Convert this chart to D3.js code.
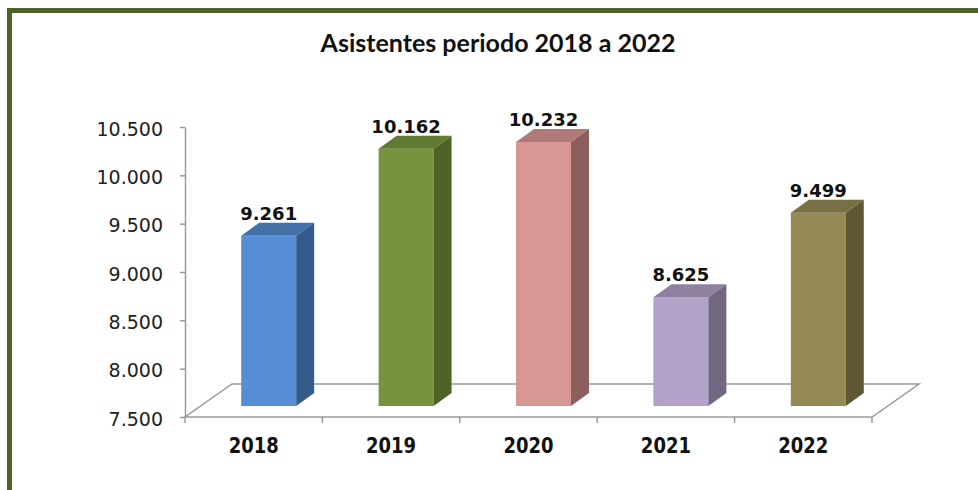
<!DOCTYPE html>
<html>
<head>
<meta charset="utf-8">
<script src="https://cdn.jsdelivr.net/npm/d3@7"></script>
<style>
  body { margin: 0; background: #fff; }
  svg { display: block; }
</style>
</head>
<body>
<svg width="978" height="490"></svg>
<script>
// data
var years = ['2018', '2019', '2020', '2021', '2022'];
var asistentes = [9261, 10162, 10232, 8625, 9499];
var yTicks = [7500, 8000, 8500, 9000, 9500, 10000, 10500];
var frontColors = ['#558ed5', '#77933c', '#d99694', '#b3a2c7', '#948a54'];
var topColors = ['#4470a8', '#617a31', '#b07a78', '#8f82a0', '#787045'];
var sideColors = ['#355b8a', '#4f6228', '#8c5f5e', '#726783', '#5e5835'];

var svg = d3.select('svg');

// green frame (cut off at right and bottom like the source)
svg.append('rect')
  .attr('x', 9.5).attr('y', 10.5)
  .attr('width', 1000).attr('height', 600)
  .attr('fill', 'none')
  .attr('stroke', '#4f6228')
  .attr('stroke-width', 5);

svg.append('text')
  .attr('x', 498).attr('y', 52)
  .attr('text-anchor', 'middle')
  .style('font-family', 'Lato, sans-serif')
  .style('font-weight', 'bold')
  .style('font-size', '25px')
  .attr('fill', '#111')
  .text('Asistentes periodo 2018 a 2022');

var plotL = 185, plotR = 872, plotT = 127, plotB = 417;
// 3d depth of floor and bars
var floorDx = 47, floorDy = -33;
var barOffX = 15, barOffY = -11;
var barDx = 18, barDy = -13;

var x = d3.scaleBand()
  .domain(years)
  .range([plotL, plotR])
  .paddingInner(0.6)
  .paddingOuter(0.3);

var y = d3.scaleLinear()
  .domain([7500, 10500])
  .range([plotB, plotT]);

var es = d3.formatLocale({decimal: ',', thousands: '.', grouping: [3], currency: ['', '']});
var fmt = es.format(',d');

var axisColor = '#9a9a9a';

function pts(arr) { return arr.map(function(p) { return p.join(','); }).join(' '); }

// floor
svg.append('polygon')
  .attr('points', pts([
    [plotL, plotB], [plotR, plotB],
    [plotR + floorDx, plotB + floorDy], [plotL + floorDx, plotB + floorDy]
  ]))
  .attr('fill', '#fff')
  .attr('stroke', axisColor)
  .attr('stroke-width', 1.5);

// y axis
var yAxis = svg.append('g')
  .attr('transform', 'translate(' + plotL + ',0)')
  .call(d3.axisLeft(y).tickValues(yTicks).tickFormat(fmt).tickSize(5).tickSizeOuter(0).tickPadding(17));
yAxis.select('.domain').attr('stroke', axisColor).attr('stroke-width', 1.5);
yAxis.selectAll('.tick line').attr('stroke', axisColor).attr('stroke-width', 1.5);
yAxis.selectAll('.tick text')
  .attr('dy', null)
  .attr('y', 8)
  .style('font-family', '"DejaVu Sans", Verdana, sans-serif')
  .style('font-size', '19px')
  .attr('fill', '#222');

// category boundary ticks
var step = x.step();
var bounds = d3.range(years.length + 1).map(function(i) { return plotL + i * step; });
svg.selectAll('.xtick')
  .data(bounds)
  .enter()
  .append('line')
  .attr('class', 'xtick')
  .attr('x1', function(d) { return d; })
  .attr('x2', function(d) { return d; })
  .attr('y1', plotB)
  .attr('y2', plotB + 6)
  .attr('stroke', axisColor)
  .attr('stroke-width', 1.5);

// category labels, a bit taller than wide like the source
svg.selectAll('.xlabel')
  .data(years)
  .enter()
  .append('text')
  .attr('class', 'xlabel')
  .attr('transform', function(d) {
    return 'translate(' + (x(d) + x.bandwidth() / 2) + ',453) scale(1,1.15)';
  })
  .attr('text-anchor', 'middle')
  .style('font-family', '"DejaVu Sans", Verdana, sans-serif')
  .style('font-weight', 'bold')
  .style('font-size', '18px')
  .attr('fill', '#111')
  .text(function(d) { return d; });

// bars
var bars = svg.selectAll('.bar')
  .data(years.map(function(yr, i) { return {year: yr, value: asistentes[i], i: i}; }))
  .enter()
  .append('g')
  .attr('class', 'bar');

bars.append('rect')
  .attr('x', function(d) { return x(d.year) + barOffX; })
  .attr('y', function(d) { return y(d.value) + barOffY; })
  .attr('width', x.bandwidth())
  .attr('height', function(d) { return y(7500) - y(d.value); })
  .attr('fill', function(d) { return frontColors[d.i]; });

bars.append('polygon')
  .attr('points', function(d) {
    var x0 = x(d.year) + barOffX, x1 = x0 + x.bandwidth(), yt = y(d.value) + barOffY;
    return pts([[x0, yt], [x0 + barDx, yt + barDy], [x1 + barDx, yt + barDy], [x1, yt]]);
  })
  .attr('fill', function(d) { return topColors[d.i]; });

bars.append('polygon')
  .attr('points', function(d) {
    var x1 = x(d.year) + barOffX + x.bandwidth(), yt = y(d.value) + barOffY, yb = y(7500) + barOffY;
    return pts([[x1, yt], [x1 + barDx, yt + barDy], [x1 + barDx, yb + barDy], [x1, yb]]);
  })
  .attr('fill', function(d) { return sideColors[d.i]; });

bars.append('text')
  .attr('x', function(d) { return x(d.year) + barOffX + x.bandwidth() / 2; })
  .attr('y', function(d) { return y(d.value) + barOffY + barDy - 3; })
  .attr('text-anchor', 'middle')
  .style('font-family', '"DejaVu Sans", Verdana, sans-serif')
  .style('font-weight', 'bold')
  .style('font-size', '18px')
  .attr('fill', '#111')
  .text(function(d) { return fmt(d.value); });
</script>
</body>
</html>
